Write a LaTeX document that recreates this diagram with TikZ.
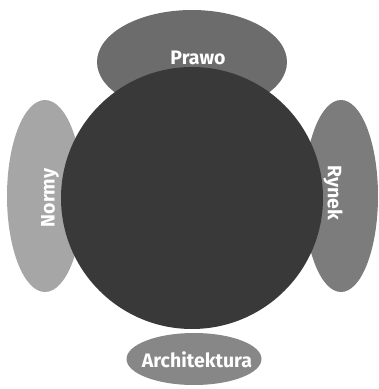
\documentclass[tikz,border=0pt]{standalone}
\usepackage{fontspec}
\setsansfont{Fira Sans}
\usetikzlibrary{shapes.geometric,calc}
\definecolor{kor}{HTML}{393939}
\definecolor{prawoszary}{HTML}{6C6C6C}
\definecolor{normyszary}{HTML}{A6A6A6}
\definecolor{rynekszary}{HTML}{7C7C7C}
\definecolor{archszary}{HTML}{878787}
\tikzset{
  elip/.style={ellipse,inner sep=0pt,draw=none},
  felirat/.style={text=white,font=\sffamily\bfseries\fontsize{19.5}{22}\selectfont,inner sep=0pt},
}

\begin{document}
\begin{tikzpicture}[x=1pt,y=-1pt]
  \useasboundingbox (0,0) rectangle (379,389);
  % tlo: elipsy za kolem
  \node[elip,fill=prawoszary,minimum width=190,minimum height=104] (prawo) at (192,62) {};
  \node[elip,fill=normyszary,minimum width=76,minimum height=192] (normy) at (45,196) {};
  \node[elip,fill=rynekszary,minimum width=74,minimum height=192] (rynek) at (341,196) {};
  \node[elip,fill=archszary,minimum width=135,minimum height=52] (arch) at (194,359) {};
  % kolo srodkowe
  \node[circle,fill=kor,minimum size=262,inner sep=0pt] (kolo) at (192,198) {};
  % napisy
  \node[felirat] at ($(prawo)+(6,-4)$) {Prawo};
  \node[felirat,rotate=90] at ($(normy)+(5,2)$) {Normy};
  \node[felirat,rotate=-90] at ($(rynek)+(-8,-3)$) {Rynek};
  \node[felirat] at ($(arch)+(3,1)$) {Architektura};
\end{tikzpicture}
\end{document}
